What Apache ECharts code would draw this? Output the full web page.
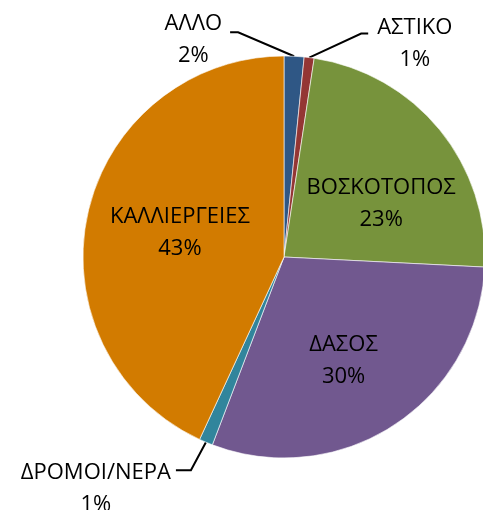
<!DOCTYPE html>
<html>
<head>
<meta charset="utf-8">
<script src="https://cdn.jsdelivr.net/npm/echarts@6/dist/echarts.min.js"></script>
<style>
html,body{margin:0;padding:0;background:#fff;}
#chart{width:483px;height:510px;}
</style>
</head>
<body>
<div id="chart"></div>
<script>
const categories = ['ΑΛΛΟ', 'ΑΣΤΙΚΟ', 'ΒΟΣΚΟΤΟΠΟΣ', 'ΔΑΣΟΣ', 'ΔΡΟΜΟΙ/ΝΕΡΑ', 'ΚΑΛΛΙΕΡΓΕΙΕΣ'];
const shares = [1.6, 0.8, 23.4, 30.0, 1.1, 43.1];
const sliceColors = ['#2f5785', '#943634', '#77933c', '#71588f', '#31859c', '#d27b00'];
const insideLabels = [false, false, true, true, false, true];

const CX = 284, CY = 257, R = 201;
const FONT = '"Open Sans", "Noto Sans", sans-serif';

// label layout tweaks (not data)
const innerShift = {2: [17, 12], 3: [3, 17], 5: [-3, -2]};
const leader = {
  0: {d1: [-56, -24], d2: [-8, 0], side: -1, gap: 8, dy: 7},
  1: {d1: [52, -24], d2: [7, 0], side: 1, gap: 9, dy: 10},
  4: {d1: [-15, 28], d2: [-15, 0], side: -1, gap: 5, dy: 19}
};

const total = shares.reduce((a, b) => a + b, 0);
function midEdge(i) {
  let before = 0;
  for (let k = 0; k < i; k++) before += shares[k];
  const mid = (before + shares[i] / 2) / total * 2 * Math.PI;
  return [CX + R * Math.sin(mid), CY - R * Math.cos(mid)];
}

const data = categories.map((name, i) => ({
  name: name,
  value: shares[i],
  itemStyle: {color: sliceColors[i]},
  label: {position: insideLabels[i] ? 'inside' : 'outside'},
  labelLine: {show: !insideLabels[i]}
}));

const chart = echarts.init(document.getElementById('chart'), null, {renderer: 'canvas'});
chart.setOption({
  animation: false,
  backgroundColor: '#ffffff',
  series: [{
    type: 'pie',
    center: [CX, CY],
    radius: [0, R],
    startAngle: 90,
    clockwise: true,
    avoidLabelOverlap: false,
    data: data,
    itemStyle: {borderColor: '#ffffff', borderWidth: 0.6},
    label: {
      show: true,
      color: '#000',
      fontFamily: FONT,
      fontSize: 22,
      lineHeight: 32,
      align: 'center',
      formatter: p => p.name + '\n' + Math.round(p.percent) + '%'
    },
    labelLine: {
      show: true,
      length: 20,
      length2: 10,
      lineStyle: {color: '#000', width: 2}
    },
    labelLayout: function (params) {
      const i = params.dataIndex;
      if (innerShift[i]) {
        return {dx: innerShift[i][0], dy: innerShift[i][1]};
      }
      const L = leader[i];
      if (!L) return {};
      const p0 = midEdge(i);
      const p1 = [p0[0] + L.d1[0], p0[1] + L.d1[1]];
      const p2 = [p1[0] + L.d2[0], p1[1] + L.d2[1]];
      const w = params.labelRect.width;
      return {
        x: p2[0] + L.side * (L.gap + w / 2),
        y: p2[1] + L.dy,
        align: 'center',
        verticalAlign: 'middle',
        labelLinePoints: [p0, p1, p2]
      };
    }
  }]
});
</script>
</body>
</html>
